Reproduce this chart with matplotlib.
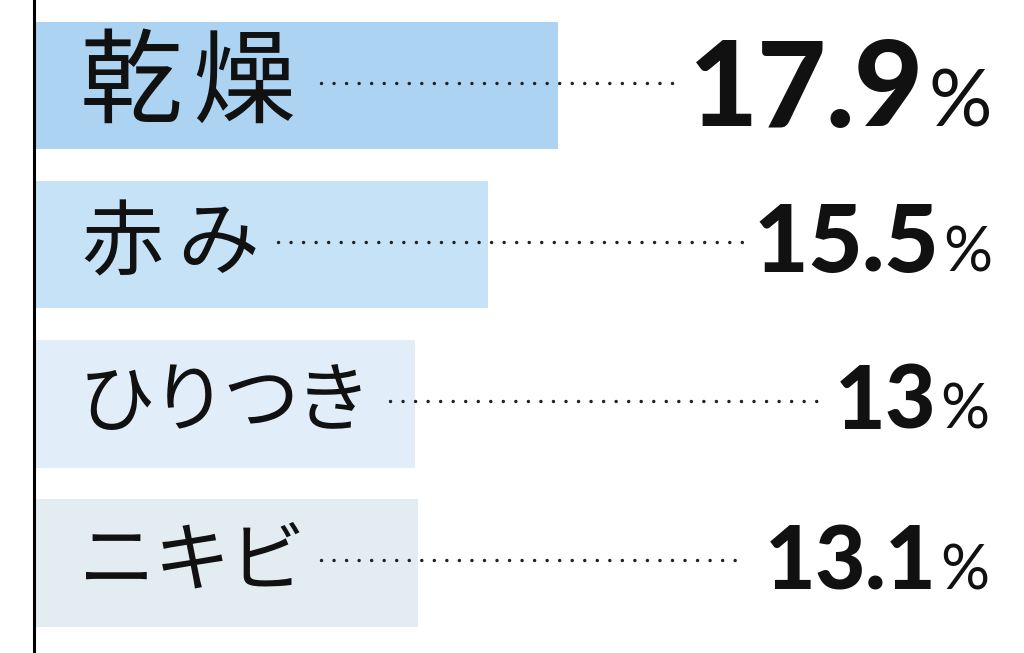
import numpy as np
import matplotlib.pyplot as plt

# データ
categories = ['乾燥', '赤み', 'ひりつき', 'ニキビ']
values = [17.9, 15.5, 13.0, 13.1]
value_labels = ['17.9', '15.5', '13', '13.1']
bar_colors = ['#acd4f2', '#c6e2f6', '#e1eef9', '#e3ecf0']

W, H, DPI = 1024, 653, 100
PX = 29.2      # 1% あたりのピクセル
X0 = 35        # 棒の根元 (px)
ROW = 159.2    # 行の間隔 (px)
Y0 = 85.5      # 1行目の中心 (px)

# 見た目の設定
lab_size = [74, 59, 55, 55]
lab_first = [131, 122, 117, 117]   # 1文字目の中心 (px)
lab_step = [113, 96, 72, 75]       # 文字送り (px)
num_size = [86, 68, 63, 63]
pct_size = [57, 44, 44, 44]
pct_right = [992, 992, 989, 989]
base_off = [41, 27, 25, 26]        # 行中心から数字のベースラインまで (px)
dot_gap = [26, 19, 19, 16]
dot_end_gap = [6, 4, 10, 28]

fig = plt.figure(figsize=(W / DPI, H / DPI), dpi=DPI)
ax = fig.add_axes([0, 0, 1, 1])
ax.set_axis_off()
ax.set_xlim(-X0 / PX, (W - X0) / PX)
ax.set_ylim((H - Y0) / ROW, -Y0 / ROW)

y = np.arange(len(categories))
ax.barh(y, values, height=0.8, color=bar_colors)
ax.axvline(-1.5 / PX, color='black', lw=2.2)

def px2data(xp, yp):
    # 画像上のピクセル(左上原点) -> データ座標
    return (xp - X0) / PX, (yp - Y0) / ROW

def pair_gap(a, b):
    # 数字の字間 (em) : "1" と "." の前後は少し詰める
    if '1' in (a, b):
        return -0.01
    if '.' in (a, b):
        return -0.005
    return 0.02

fig.canvas.draw()
r = fig.canvas.get_renderer()

for i, cat in enumerate(categories):
    yc = Y0 + i * ROW
    # ラベル (文字間を広めに)
    last = None
    for k, ch in enumerate(cat):
        xd, yd = px2data(lab_first[i] + k * lab_step[i], yc)
        last = ax.text(xd, yd, ch, ha='center', va='center', fontsize=lab_size[i],
                       family=['Noto Sans CJK JP', 'DejaVu Sans'], color='#111111')

    # %
    xd, yd = px2data(pct_right[i], yc + base_off[i])
    pct = ax.text(xd, yd, '%', ha='right', va='baseline', fontsize=pct_size[i],
                  family='Lato', color='#111111')
    fpx = num_size[i] * DPI / 72
    x_disp = pct.get_window_extent(r).x0 - 0.05 * fpx
    s = value_labels[i]
    first = None
    for k in range(len(s) - 1, -1, -1):
        xd, _ = px2data(x_disp, 0)
        t = ax.text(xd, yd, s[k], ha='right', va='baseline',
                    fontsize=num_size[i], family='Lato', fontweight='black',
                    color='#111111')
        first = t
        x_disp -= t.get_window_extent(r).width
        if k > 0:
            x_disp -= pair_gap(s[k - 1], s[k]) * fpx

    # 点線
    x_start = last.get_window_extent(r).x1 + dot_gap[i]
    x_end = first.get_window_extent(r).x0 - dot_end_gap[i]
    xs, _ = px2data(x_start, 0)
    xe, _ = px2data(x_end, 0)
    _, yd = px2data(0, yc - 3)
    ax.plot([xs, xe], [yd, yd], color='#222222', lw=2.5,
            linestyle=(0, (0.01, 3.6)), dash_capstyle='round')

fig.savefig('out.png', dpi=DPI)
